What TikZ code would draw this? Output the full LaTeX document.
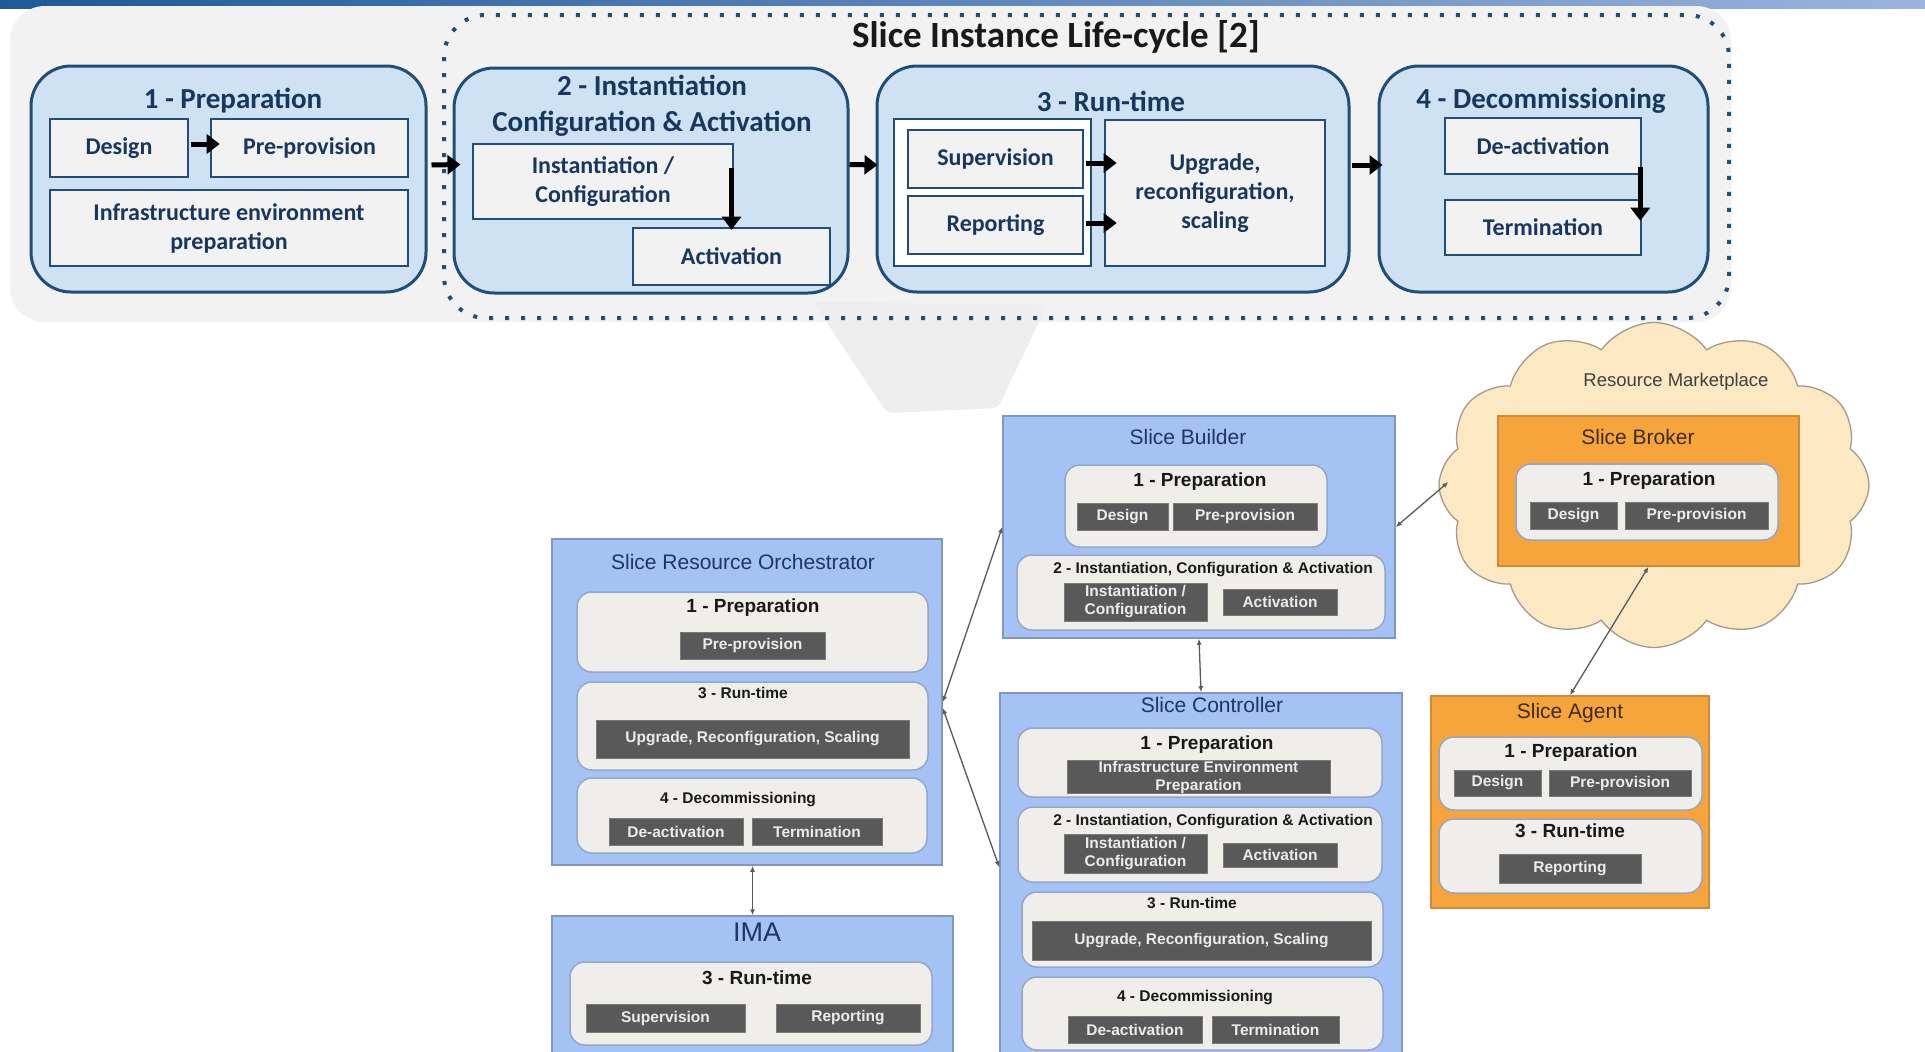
\documentclass[tikz,border=0pt]{standalone}
\usepackage{fontspec}
\setmainfont{Liberation Sans}
\newfontfamily\calfont{Carlito}
\usetikzlibrary{arrows.meta,calc,shapes.symbols}

\definecolor{panelgrey}{HTML}{F2F2F2}
\definecolor{stagefill}{HTML}{CFE2F3}
\definecolor{stageline}{HTML}{1F4E79}
\definecolor{stagetext}{HTML}{17375E}
\definecolor{blueboxfill}{HTML}{A4C2F4}
\definecolor{blueboxline}{HTML}{7F97C2}
\definecolor{navytitle}{HTML}{1C3765}
\definecolor{innerfill}{HTML}{EFEEEB}
\definecolor{innerline}{HTML}{95A7C8}
\definecolor{darkbox}{HTML}{595959}
\definecolor{darkboxtext}{HTML}{ECECEC}
\definecolor{orangefill}{HTML}{F6A53C}
\definecolor{orangeline}{HTML}{CF8B38}
\definecolor{browntext}{HTML}{3E2C14}
\definecolor{cloudfill}{HTML}{FDE8C4}
\definecolor{cloudline}{HTML}{A39A88}
\definecolor{connector}{HTML}{5A5A5A}
\definecolor{callout}{HTML}{EEEEEE}
\definecolor{barleft}{HTML}{1D5A98}
\definecolor{barright}{HTML}{9BB3DD}

\newcommand\mybx[7]{%
  \pgfmathsetmacro\bcx{(#3+#5)/2}%
  \pgfmathsetmacro\bcy{(#4+#6)/2}%
  \pgfmathsetmacro\bw{#5-#3}%
  \pgfmathsetmacro\bh{#6-#4}%
  \node[#2,minimum width=\bw pt,minimum height=\bh pt] (#1) at (\bcx,\bcy) {#7};}

\begin{document}
\begin{tikzpicture}[x=1pt,y=-1pt,
  stagebox/.style={draw=stageline, line width=3pt, fill=stagefill, rounded corners=40pt, inner sep=0pt},
  topbox/.style={draw=stageline, line width=2.6pt, fill=panelgrey, inner sep=0pt, align=center, text=stagetext, font={\calfont\bfseries\fontsize{24}{29}\selectfont}},
  stagetitle/.style={text=stagetext, font={\calfont\bfseries\fontsize{29}{36}\selectfont}, align=center, inner sep=0pt},
  bigarrow/.style={line width=5pt, -{Triangle[length=13pt,width=19pt]}, black},
  bluebox/.style={draw=blueboxline, line width=1.5pt, fill=blueboxfill, inner sep=0pt},
  bluetitle/.style={text=navytitle, font={\fontsize{21}{25}\selectfont}, inner sep=0pt},
  browntitle/.style={text=browntext, font={\fontsize{21}{25}\selectfont}, inner sep=0pt},
  panel/.style={draw=innerline, line width=1.5pt, fill=innerfill, rounded corners=15pt, inner sep=0pt},
  heading/.style={font={\bfseries\fontsize{19}{23}\selectfont}, text=black!90, inner sep=0pt},
  smallheading/.style={font={\bfseries\fontsize{15.5}{19}\selectfont}, text=black!90, inner sep=0pt},
  dark/.style={draw=darkbox!80!white, line width=0.8pt, fill=darkbox, text=darkboxtext, font={\bfseries\fontsize{15.5}{18}\selectfont}, align=center, inner sep=0pt},
  orangebox/.style={draw=orangeline, line width=1.5pt, fill=orangefill, inner sep=0pt},
  link/.style={draw=connector, line width=1.3pt, {Latex[length=6pt,width=5pt]}-{Latex[length=6pt,width=5pt]}}
]
\useasboundingbox (0,0) rectangle (1925,1052);
\clip (0,0) rectangle (1925,1052);
\fill[white] (0,0) rectangle (1925,1052);

% ---------- top banner ----------
\shade[left color=barleft, right color=barright] (0,0) rectangle (1925,8);
\fill[panelgrey, rounded corners=35pt] (10,6) rectangle (1731,322);
\fill[callout, rounded corners=6pt] (813,302) -- (1047,305) -- (998,408) -- (887,413) -- cycle;
\draw[stageline, line width=4pt, dash pattern=on 4pt off 12pt, rounded corners=42pt] (444,15) rectangle (1729,318);
\node[font={\calfont\bfseries\fontsize{37}{44}\selectfont}, text=black!90, inner sep=0pt] (title) at (1056,37) {Slice Instance Life-cycle [2]};

% stage 1
\mybx{s1}{stagebox}{31}{66}{426}{292}{}
\node[stagetitle] (s1t) at (233,101) {1 - Preparation};
\mybx{design}{topbox}{50}{119}{188}{177}{Design}
\mybx{prep}{topbox}{211}{119}{408}{177}{Pre-provision}
\mybx{infra}{topbox}{50}{190}{408}{266}{Infrastructure environment\\preparation}

% stage 2
\mybx{s2}{stagebox}{454}{68}{848}{293}{}
\node[stagetitle] (s2t) at (652,106) {2 - Instantiation\\Configuration \& Activation};
\mybx{inst}{topbox}{473}{144}{733}{219}{Instantiation /\\Configuration}
\mybx{act}{topbox}{633}{228}{830}{285}{Activation}

% stage 3
\mybx{s3}{stagebox}{877}{66}{1349}{292}{}
\node[stagetitle] (s3t) at (1111,101) {3 - Run-time};
\mybx{rtgroup}{topbox,fill=white}{894}{119}{1091}{266}{}
\mybx{sup}{topbox}{908}{130}{1083}{188}{Supervision}
\mybx{rep}{topbox}{908}{196}{1083}{254}{Reporting}
\mybx{upg}{topbox}{1105}{120}{1325}{266}{Upgrade,\\reconfiguration,\\scaling}

% stage 4
\mybx{s4}{stagebox}{1379}{66}{1708}{292}{}
\node[stagetitle] (s4t) at (1541,101) {4 - Decommissioning};
\mybx{deact}{topbox}{1445}{118}{1641}{174}{De-activation}
\mybx{term}{topbox}{1445}{200}{1641}{255}{Termination}

% arrows
\draw[bigarrow] ($(s1.east)+(4,-14)$) -- ($(s2.west)+(8,-16)$);
\draw[bigarrow] ($(s2.east)+(0,-16)$) -- ($(s3.west)+(2,-14)$);
\draw[bigarrow] ($(s3.east)+(1,-14)$) -- ($(s4.west)+(5,-14)$);
\draw[bigarrow] ($(design.east)+(2,-4)$) -- ($(prep.west)+(10,-4)$);
\draw[bigarrow] ($(sup.east)+(2,4)$) -- ($(sup.east -| upg.west)+(13,4)$);
\draw[bigarrow] ($(rep.east)+(2,-2)$) -- ($(rep.east -| upg.west)+(13,-2)$);
\draw[bigarrow] ($(inst.north east -| act.north)+(0,25)$) -- ($(act.north)+(0,3)$);
\draw[bigarrow] ($(deact.south east)+(-2,-8)$) -- ($(term.north east)+(-2,22)$);

% ---------- Slice Resource Orchestrator ----------
\mybx{sro}{bluebox}{552}{539}{942}{865}{}
\node[bluetitle] (srot) at (743,562) {Slice Resource Orchestrator};
\mybx{srop1}{panel}{577}{592}{928}{672}{}
\node[heading] (srop1h) at (753,608) {1 - Preparation};
\mybx{sroprep}{dark}{680}{632}{825}{659}{Pre-provision}
\mybx{srop3}{panel}{577}{682}{928}{770}{}
\node[smallheading] (srop3h) at (743,693) {3 - Run-time};
\mybx{sroupg}{dark}{596}{720}{909}{758}{Upgrade, Reconfiguration, Scaling}
\mybx{srop4}{panel}{577}{778}{927}{853}{}
\node[smallheading] (srop4h) at (738,800) {4 - Decommissioning};
\mybx{srodeact}{dark}{609}{818}{743}{845}{De-activation}
\mybx{sroterm}{dark}{752}{818}{882}{845}{Termination}

% ---------- IMA ----------
\mybx{ima}{bluebox}{552}{916}{953}{1070}{}
\node[bluetitle, font={\fontsize{27}{32}\selectfont}] (imat) at (757,932) {IMA};
\mybx{imap}{panel}{570}{962}{932}{1045}{}
\node[heading] (imaph) at (757,978) {3 - Run-time};
\mybx{imasup}{dark}{586}{1004}{745}{1032}{Supervision}
\mybx{imarep}{dark}{776}{1004}{920}{1032}{Reporting}

% ---------- Slice Builder ----------
\mybx{sb}{bluebox}{1003}{416}{1395}{638}{}
\node[bluetitle] (sbt) at (1188,437) {Slice Builder};
\mybx{sbp1}{panel}{1065}{465}{1327}{547}{}
\node[heading] (sbp1h) at (1200,482) {1 - Preparation};
\mybx{sbdesign}{dark}{1077}{503}{1168}{530}{Design}
\mybx{sbprep}{dark}{1173}{503}{1317}{530}{Pre-provision}
\mybx{sbp2}{panel}{1017}{555}{1385}{630}{}
\node[smallheading] (sbp2h) at (1213,570) {2 - Instantiation, Configuration \& Activation};
\mybx{sbinst}{dark}{1064}{583}{1207}{621}{Instantiation /\\Configuration}
\mybx{sbact}{dark}{1223}{589}{1337}{615}{Activation}

% ---------- Slice Controller ----------
\mybx{sc}{bluebox}{1000}{693}{1402}{1075}{}
\node[bluetitle] (sct) at (1212,705) {Slice Controller};
\mybx{scp1}{panel}{1018}{728}{1382}{797}{}
\node[heading] (scp1h) at (1207,745) {1 - Preparation};
\mybx{scinfra}{dark}{1067}{761}{1330}{793}{Infrastructure Environment\\Preparation}
\mybx{scp2}{panel}{1018}{807}{1382}{882}{}
\node[smallheading] (scp2h) at (1213,822) {2 - Instantiation, Configuration \& Activation};
\mybx{scinst}{dark}{1064}{834}{1207}{873}{Instantiation /\\Configuration}
\mybx{scact}{dark}{1223}{843}{1337}{867}{Activation}
\mybx{scp3}{panel}{1022}{892}{1383}{967}{}
\node[smallheading] (scp3h) at (1192,903) {3 - Run-time};
\mybx{scupg}{dark}{1032}{921}{1371}{960}{Upgrade, Reconfiguration, Scaling}
\mybx{scp4}{panel}{1022}{977}{1383}{1050}{}
\node[smallheading] (scp4h) at (1195,998) {4 - Decommissioning};
\mybx{scdeact}{dark}{1068}{1016}{1202}{1043}{De-activation}
\mybx{scterm}{dark}{1212}{1016}{1339}{1043}{Termination}

% ---------- Resource Marketplace ----------
\node[cloud, cloud puffs=12, cloud puff arc=110, cloud ignores aspect, minimum width=430pt, minimum height=325pt, draw=cloudline, fill=cloudfill, line width=1.3pt] (mkt) at (1654,485) {};
\node[font={\fontsize{18.5}{22}\selectfont}, text=black!75, inner sep=0pt] (mktt) at (1676,382) {Resource Marketplace};
\mybx{broker}{orangebox}{1498}{416}{1799}{566}{}
\node[browntitle] (brokert) at (1638,437) {Slice Broker};
\mybx{brp}{panel}{1516}{464}{1778}{540}{}
\node[heading] (brph) at (1649,481) {1 - Preparation};
\mybx{brdesign}{dark}{1530}{502}{1617}{529}{Design}
\mybx{brprep}{dark}{1625}{502}{1768}{529}{Pre-provision}

% ---------- Slice Agent ----------
\mybx{agent}{orangebox}{1431}{696}{1709}{908}{}
\node[browntitle] (agentt) at (1570,713) {Slice Agent};
\mybx{agp1}{panel}{1439}{737}{1702}{810}{}
\node[heading] (agp1h) at (1571,753) {1 - Preparation};
\mybx{agdesign}{dark}{1454}{770}{1541}{796}{Design}
\mybx{agprep}{dark}{1549}{770}{1691}{796}{Pre-provision}
\mybx{agp3}{panel}{1439}{819}{1702}{893}{}
\node[heading] (agp3h) at (1570,831) {3 - Run-time};
\mybx{agrep}{dark}{1499}{854}{1641}{883}{Reporting}

% ---------- connectors ----------
\draw[link] (sro.east) -- (sb.west);
\draw[link] ($(sro.east)+(0,6)$) -- ($(sc.north west)+(0,175)$);
\draw[link] (sb.south) -- (sc.north);
\draw[link] (sb.east) -- ($(mkt.west)+(10,-3)$);
\draw[link] (broker.south) -- (agent.north);
\draw[link] (sro.south -| ima.north) -- (ima.north);
\end{tikzpicture}
\end{document}
